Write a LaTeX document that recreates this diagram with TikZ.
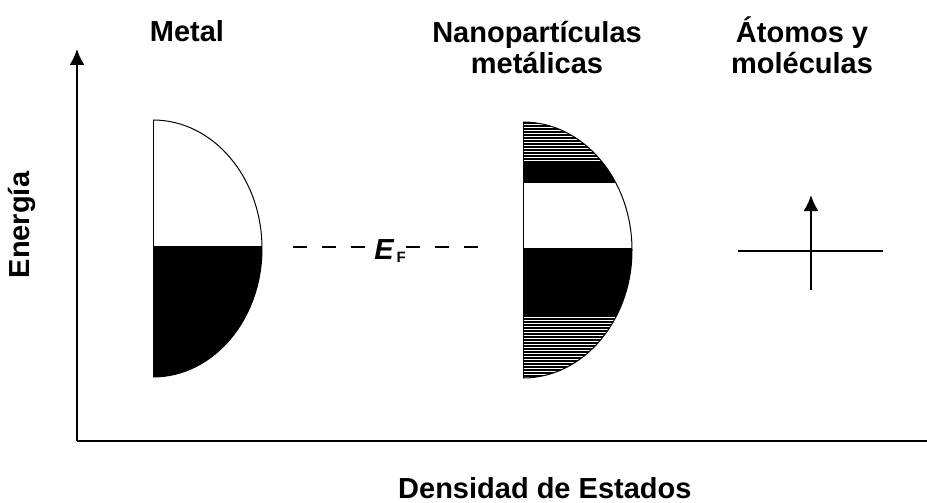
\documentclass[tikz,border=0pt]{standalone}
\usepackage{fontspec}
\setmainfont{Liberation Sans}
\usetikzlibrary{arrows,arrows.meta,positioning}
\tikzset{>=latex}

\begin{document}
\begin{tikzpicture}[x=1pt,y=-1pt,
	lbl/.style={font=\fontsize{29}{31}\selectfont\bfseries, align=center, inner sep=0pt},
	axis/.style={line width=2pt},
	fermi/.style={line width=1.2pt, dash pattern=on 14pt off 15pt},
	hatch/.style={line width=1.1pt},
	rim/.style={line width=1pt}]
	\useasboundingbox (0,0) rectangle (927,503);
	% axes
	\coordinate (o) at (77,441);
	\coordinate (ytop) at (77,49);
	\coordinate (xend) at (927,441);
	\draw[axis,-{Latex[length=16pt,width=15pt]}] (o) -- (ytop);
	\draw[line width=1.5pt] (o) -- (xend);
	% metal
	\begin{scope}
		\clip (153,248.5) ellipse [x radius=109pt, y radius=128.5pt];
		\fill (153,246) rectangle (265,380);
	\end{scope}
	\begin{scope}
		\clip (153,100) rectangle (280,400);
		\draw[rim] (153,248.5) ellipse [x radius=109pt, y radius=128.5pt];
	\end{scope}
	\draw[rim] (153,120) -- (153,377);
	\draw[rim] (153,246) -- (262,246);
	% nanoparticulas
	\begin{scope}
		\clip (523,250) ellipse [x radius=109pt, y radius=128pt];
		\foreach \y in {123,126,...,162}
			\draw[hatch] (523,\y) -- (640,\y);
		\fill (523,162) rectangle (640,183);
		\fill (523,248) rectangle (640,317);
		\foreach \y in {319,322,...,378}
			\draw[hatch] (523,\y) -- (640,\y);
	\end{scope}
	\begin{scope}
		\clip (523,100) rectangle (650,400);
		\draw[rim] (523,250) ellipse [x radius=109pt, y radius=128pt];
	\end{scope}
	\draw[rim] (523,122) -- (523,378);
	% nivel de Fermi
	\node[lbl] (ef) at (390,251) {\itshape E\hspace{3pt}\fontsize{15}{15}\selectfont\upshape\raisebox{-3pt}{F}};
	\coordinate (efl) at (293,247);
	\coordinate (efr) at (486,247);
	\draw[fermi] (efl) -- (efl -| ef.west);
	\draw[fermi] (efr -| ef.east) -- (efr);
	% atomos
	\coordinate (al) at (738,251);
	\coordinate (ar) at (883,251);
	\coordinate (ab) at (811,290);
	\coordinate (atop) at (811,195);
	\draw[axis] (al) -- (ar);
	\draw[axis,-{Latex[length=16pt,width=15pt]}] (ab) -- (atop);
	% textos
	\node[lbl, anchor=base] (metal) at (187,42) {Metal};
	\node[lbl, anchor=base] (nano) at (537,43) {Nanopartículas};
	\node[lbl, anchor=base] (nano2) at (537,74) {metálicas};
	\node[lbl, anchor=base] (atom) at (802,43) {Átomos y};
	\node[lbl, anchor=base] (atom2) at (802,74) {moléculas};
	\node[lbl, rotate=90] (energy) at (22,225) {Energía};
	\node[lbl, anchor=base west] (dos) at (398,498) {Densidad de Estados};
\end{tikzpicture}
\end{document}
